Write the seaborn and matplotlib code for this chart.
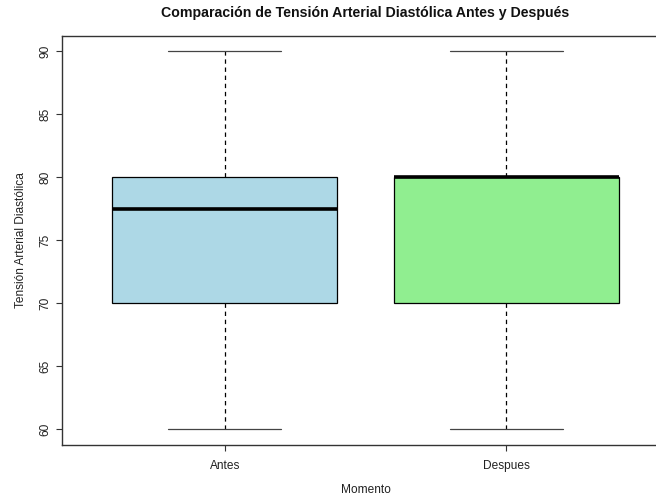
import matplotlib
matplotlib.use("Agg")
import matplotlib.pyplot as plt
import seaborn as sns
import pandas as pd

# Diastolic pressure readings (mmHg) for each moment
antes = [60, 70, 70, 75, 80, 80, 80, 90]
despues = [60, 70, 80, 80, 90]
momentos = ["Antes", "Despues"]
colores = ["#ADD8E6", "#90EE90"]
yticks = [60, 65, 70, 75, 80, 85, 90]

df = pd.DataFrame({
    "Momento": ["Antes"] * len(antes) + ["Despues"] * len(despues),
    "TA": antes + despues,
})

sns.set_style("white")
plt.rcParams["font.family"] = ["Liberation Sans", "DejaVu Sans"]

fig = plt.figure(figsize=(6.56, 4.97), dpi=100)
ax = fig.add_axes([61.5 / 656, 1 - 444.5 / 497, (669.6 - 61.5) / 656, (444.5 - 36.3) / 497])

sns.boxplot(
    data=df, x="Momento", y="TA", hue="Momento", order=momentos,
    palette=colores, saturation=1, width=0.8, whis=1.5,
    linecolor="black", linewidth=0.9, ax=ax, legend=False,
    whiskerprops=dict(linestyle=(0, (3.5, 3)), linewidth=0.9, color="black"),
    capprops=dict(linewidth=0.9, color="#444444"),
    medianprops=dict(linewidth=2.6, color="black"),
    boxprops=dict(edgecolor="black", linewidth=0.9),
)

ax.set_xlim(-0.58, 1.58)
ax.set_ylim(58.8, 91.2)
ax.set_yticks(yticks)
ax.set_yticklabels([str(v) for v in yticks], rotation=90, va="center")

for side in ["left", "bottom", "top", "right"]:
    ax.spines[side].set_visible(True)
    ax.spines[side].set_color("#333333")
    ax.spines[side].set_linewidth(1.0)

ax.tick_params(axis="both", direction="out", length=4, width=0.8,
               color="#333333", labelsize=8.6, labelcolor="#222222",
               left=True, bottom=True)
ax.tick_params(axis="y", pad=3)
ax.tick_params(axis="x", pad=7)

ax.set_xlabel("Momento", fontsize=8.6, color="#222222", labelpad=9)
ax.set_ylabel("Tensión Arterial Diastólica", fontsize=8.6, color="#222222", labelpad=9)
ax.set_title("Comparación de Tensión Arterial Diastólica Antes y Después",
             fontsize=10.2, fontweight="bold", color="#111111", pad=14)

fig.savefig("out.png", dpi=100)
